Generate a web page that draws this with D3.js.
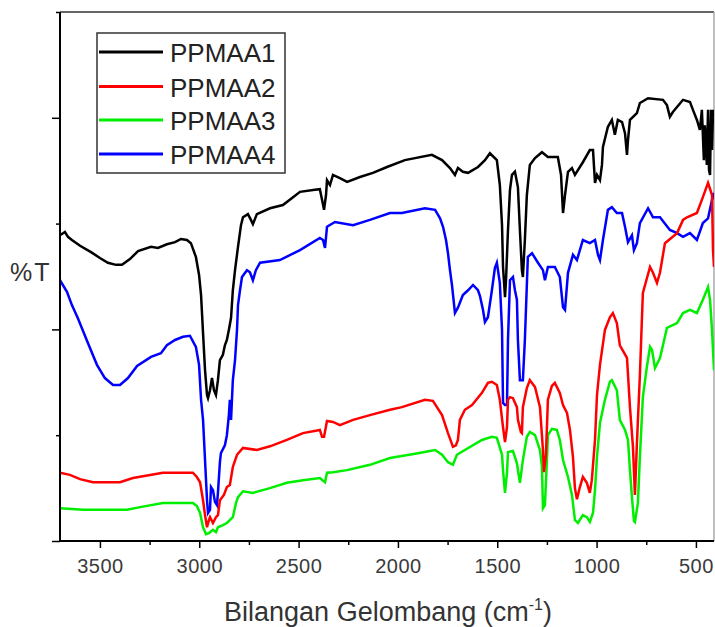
<!DOCTYPE html>
<html><head><meta charset="utf-8">
<script src="https://cdn.jsdelivr.net/npm/d3@7"></script>
<style>body{margin:0;background:#fff}svg{display:block}</style>
</head><body>
<svg id="chart" width="715" height="627"></svg>
<script>
// ---- data (wavenumber cm^-1, %T in arbitrary units) ----
const seriesNames = ["PPMAA1", "PPMAA2", "PPMAA3", "PPMAA4"];
const seriesColors = ["#000000", "#ff0000", "#00ee00", "#0000ff"];
const xMajorTicks = [3500, 3000, 2500, 2000, 1500, 1000, 500];
const xMinorTicks = [3250, 2750, 2250, 1750, 1250, 750];
const yMajorTicks = [0, 40, 80];
const yMinorTicks = [20, 60, 100];

const ppmaa1 = [[3701,57.8],[3676,58.4],[3661,57.5],[3641,56.9],[3600,55.8],[3545,54.6],[3500,53.5],[3460,52.6],[3419,52.2],[3389,52.2],[3349,53.3],[3308,54.8],[3243,55.6],[3208,55.4],[3163,56.1],[3122,56.5],[3092,57.1],[3062,56.9],[3042,56.3],[3017,53.7],[3001,50.3],[2991,46.5],[2981,39.3],[2971,32.3],[2961,27.6],[2956,27.0],[2946,28.5],[2936,30.8],[2926,28.5],[2916,27.6],[2906,30.4],[2896,34.2],[2881,35.2],[2871,37.0],[2861,38.0],[2851,39.9],[2840,42.2],[2831,47.4],[2820,51.2],[2805,55.6],[2790,59.7],[2780,61.2],[2755,61.8],[2740,60.7],[2730,59.9],[2710,61.8],[2644,62.9],[2579,63.5],[2528,65.0],[2493,66.0],[2418,66.4],[2393,66.5],[2382,64.5],[2372,62.6],[2362,65.4],[2357,68.2],[2342,67.3],[2327,69.2],[2292,68.6],[2256,67.9],[2191,68.8],[2126,69.6],[2055,70.7],[1965,72.0],[1829,73.0],[1778,72.0],[1738,70.5],[1713,69.2],[1698,70.5],[1673,69.8],[1647,69.6],[1597,70.7],[1562,72.0],[1537,73.3],[1502,72.0],[1487,67.3],[1476,59.7],[1471,51.8],[1461,46.1],[1456,49.3],[1446,58.8],[1436,66.4],[1426,69.2],[1411,69.8],[1396,66.9],[1386,58.8],[1376,51.2],[1371,49.9],[1361,56.9],[1351,65.4],[1336,71.1],[1310,72.4],[1275,73.5],[1245,72.6],[1195,72.6],[1179,69.2],[1169,62.0],[1159,65.4],[1144,69.8],[1124,70.5],[1109,69.2],[1069,71.6],[1034,73.9],[1018,73.9],[1008,67.7],[998,69.2],[983,68.2],[973,71.1],[968,74.5],[943,78.3],[923,79.6],[908,76.8],[893,79.6],[872,79.2],[857,77.1],[847,73.0],[842,75.8],[832,79.6],[797,80.9],[782,82.8],[741,83.7],[666,83.4],[646,82.4],[631,80.2],[616,81.1],[565,83.4],[530,83.0],[515,81.5],[495,79.6],[480,77.7],[470,81.5],[460,72.0],[455,78.6],[445,71.1],[439,81.5],[434,70.1],[429,69.2],[424,81.5],[419,73.9],[414,81.5],[409,80.0]];

const ppmaa2 = [[3701,12.9],[3651,12.5],[3600,11.7],[3535,11.1],[3399,11.1],[3334,11.9],[3183,12.9],[3032,12.9],[3012,12.1],[2996,11.1],[2981,7.7],[2971,4.9],[2961,2.6],[2951,4.0],[2946,4.5],[2931,3.4],[2916,4.5],[2906,4.9],[2896,7.7],[2876,8.7],[2861,10.2],[2846,10.6],[2831,14.0],[2810,16.3],[2780,17.6],[2710,17.2],[2644,17.9],[2559,19.1],[2478,20.4],[2393,21.0],[2382,19.7],[2372,19.7],[2357,22.7],[2327,22.5],[2292,21.9],[2226,22.9],[2141,23.8],[2040,24.8],[1980,25.3],[1864,26.7],[1824,26.5],[1778,23.8],[1748,20.4],[1723,17.8],[1708,18.1],[1698,19.1],[1688,22.9],[1663,24.8],[1627,25.7],[1577,28.0],[1547,29.9],[1527,30.1],[1502,29.5],[1487,26.7],[1471,21.5],[1461,18.7],[1451,21.5],[1446,26.7],[1436,27.2],[1421,27.0],[1401,25.3],[1396,22.9],[1381,20.6],[1376,20.4],[1371,25.3],[1351,28.9],[1336,30.4],[1310,29.1],[1285,25.3],[1270,17.2],[1265,13.0],[1255,16.3],[1245,26.7],[1225,29.3],[1210,29.9],[1185,28.0],[1169,25.7],[1149,24.2],[1134,21.0],[1119,15.9],[1109,10.0],[1099,7.9],[1084,10.2],[1069,12.1],[1049,11.0],[1034,9.1],[1024,11.5],[1008,19.1],[998,27.6],[983,33.3],[958,39.9],[933,42.3],[918,43.1],[898,41.2],[883,37.0],[847,34.6],[832,25.3],[817,17.8],[807,8.7],[797,18.5],[782,31.4],[772,41.8],[767,46.9],[731,51.8],[716,50.7],[696,48.8],[681,50.7],[656,56.3],[595,58.2],[565,60.7],[545,61.2],[495,62.0],[465,65.0],[439,67.7],[419,65.4],[414,55.0],[409,51.8]];

const ppmaa3 = [[3701,6.2],[3585,5.9],[3364,5.9],[3298,6.4],[3183,7.2],[3032,7.2],[3012,6.6],[2996,5.3],[2981,2.6],[2966,1.3],[2951,1.5],[2931,2.1],[2916,1.7],[2906,2.6],[2881,3.0],[2861,3.4],[2831,4.5],[2815,7.2],[2805,8.3],[2780,9.4],[2730,9.1],[2644,10.0],[2559,11.0],[2478,11.5],[2393,11.9],[2367,11.1],[2357,12.9],[2327,13.0],[2256,13.4],[2141,14.4],[2040,15.7],[1899,16.6],[1813,17.2],[1778,16.3],[1748,14.9],[1723,14.4],[1703,16.3],[1663,17.2],[1577,19.1],[1527,19.7],[1502,19.5],[1476,16.3],[1471,13.4],[1461,9.1],[1451,12.9],[1446,16.8],[1421,17.0],[1401,14.7],[1386,11.0],[1371,15.3],[1351,19.7],[1336,20.6],[1310,20.0],[1285,17.2],[1275,14.0],[1270,6.2],[1260,6.8],[1250,15.3],[1245,20.0],[1225,21.2],[1200,21.0],[1185,19.1],[1169,15.3],[1144,12.1],[1124,8.7],[1109,4.0],[1094,3.4],[1069,4.9],[1049,4.5],[1034,3.6],[1018,5.3],[1008,9.6],[998,15.9],[983,22.3],[958,26.7],[933,30.1],[923,30.4],[898,28.5],[883,22.9],[857,21.0],[842,19.1],[832,13.4],[822,8.3],[812,3.8],[807,3.6],[792,7.2],[782,15.9],[767,27.2],[747,32.9],[731,36.7],[721,36.1],[706,32.7],[681,34.6],[656,38.6],[646,40.3],[595,41.2],[565,43.1],[530,43.7],[495,43.1],[465,45.6],[439,48.0],[429,45.6],[419,39.9],[409,32.3]];

const ppmaa4 = [[3701,49.3],[3666,47.1],[3641,44.6],[3611,42.1],[3560,37.4],[3515,33.3],[3475,30.8],[3434,29.5],[3399,29.5],[3359,30.8],[3313,33.1],[3243,34.8],[3193,35.5],[3163,37.0],[3122,38.0],[3082,38.6],[3047,38.8],[3017,36.7],[3001,33.3],[2991,26.7],[2981,22.9],[2971,15.3],[2961,7.7],[2956,5.3],[2946,5.9],[2941,10.2],[2931,9.6],[2921,7.4],[2911,6.8],[2906,9.1],[2896,14.9],[2891,16.6],[2871,18.1],[2861,20.0],[2851,23.8],[2846,26.7],[2840,22.9],[2831,30.4],[2820,34.2],[2810,39.9],[2805,44.6],[2795,47.4],[2785,49.9],[2760,51.2],[2745,50.8],[2730,49.3],[2715,51.2],[2694,52.6],[2594,53.1],[2493,55.0],[2393,57.3],[2377,56.9],[2367,55.4],[2357,59.4],[2317,60.3],[2226,59.7],[2141,60.7],[2040,62.0],[1980,62.0],[1864,62.9],[1813,62.6],[1788,61.0],[1773,59.4],[1758,56.9],[1748,54.4],[1738,51.2],[1728,48.4],[1713,43.1],[1698,44.1],[1673,46.5],[1647,47.4],[1622,48.4],[1597,47.4],[1587,46.3],[1572,43.7],[1562,41.4],[1547,42.3],[1527,47.4],[1512,51.6],[1502,52.6],[1487,48.8],[1476,39.9],[1471,26.1],[1461,25.7],[1451,25.7],[1446,38.0],[1436,49.3],[1421,49.9],[1411,47.4],[1401,45.6],[1396,38.0],[1386,30.4],[1371,30.4],[1361,38.0],[1346,53.7],[1325,54.4],[1295,52.6],[1270,51.2],[1260,49.3],[1245,51.8],[1210,51.8],[1185,49.9],[1169,44.2],[1159,43.7],[1144,50.7],[1119,54.1],[1099,53.1],[1069,56.9],[1034,56.3],[1008,56.9],[993,54.1],[983,53.1],[968,56.9],[943,62.6],[923,63.1],[898,62.0],[872,62.0],[857,59.4],[842,56.5],[822,57.8],[812,55.0],[797,56.3],[782,60.1],[741,62.9],[716,61.2],[681,61.2],[631,58.8],[595,58.2],[565,57.5],[530,58.2],[495,56.9],[465,60.1],[439,61.0],[419,64.5],[409,65.8]];

const allSeries = [ppmaa1, ppmaa2, ppmaa3, ppmaa4];

// ---- layout ----
const FONT = "'Liberation Sans', Arial, sans-serif";
const L = 60, R = 714, T = 12, B = 541;
const svg = d3.select("#chart");
const x = d3.scaleLinear().domain([3701, 409]).range([L, R]);
const y = d3.scaleLinear().domain([0, 100]).range([B, T]);

svg.append("defs").append("clipPath").attr("id", "clip")
  .append("rect").attr("x", L).attr("y", T).attr("width", R - L).attr("height", B - T);

// frame (top & right)
svg.append("line").attr("x1", L).attr("x2", R).attr("y1", T).attr("y2", T)
  .attr("stroke", "#666").attr("stroke-width", 2);
svg.append("line").attr("x1", R).attr("x2", R).attr("y1", T).attr("y2", B)
  .attr("stroke", "#aaa").attr("stroke-width", 1.5);

// series (last legend entry drawn first)
const line = d3.line().x(d => x(d[0])).y(d => y(d[1]));
const gLines = svg.append("g").attr("clip-path", "url(#clip)");
for (let i = allSeries.length - 1; i >= 0; i--) {
  gLines.append("path").datum(allSeries[i]).attr("d", line)
    .attr("fill", "none").attr("stroke", seriesColors[i])
    .attr("stroke-width", 2.5).attr("stroke-linejoin", "miter");
}

// x axis
const gx = svg.append("g").attr("transform", `translate(0,${B})`)
  .call(d3.axisBottom(x).tickValues(xMajorTicks).tickSize(7).tickPadding(11).tickFormat(d3.format("d")));
svg.append("g").attr("transform", `translate(0,${B})`)
  .call(d3.axisBottom(x).tickValues(xMinorTicks).tickSize(4).tickFormat(""))
  .select(".domain").remove();
gx.select(".domain").attr("d", `M${L},0H${R}`).attr("stroke", "#000").attr("stroke-width", 2);
svg.selectAll(".tick line").attr("stroke", "#000").attr("stroke-width", 1.5);
gx.selectAll(".tick text").attr("font-family", FONT).attr("font-size", 20)
  .attr("fill", "#3a3a3a").attr("letter-spacing", 0.5);

// y axis
const gy = svg.append("g").attr("transform", `translate(${L},0)`)
  .call(d3.axisLeft(y).tickValues(yMajorTicks).tickSize(8).tickFormat(""));
svg.append("g").attr("transform", `translate(${L},0)`)
  .call(d3.axisLeft(y).tickValues(yMinorTicks).tickSize(4).tickFormat(""))
  .select(".domain").remove();
gy.select(".domain").attr("d", `M0,${T}V${B + 1}`).attr("stroke", "#000").attr("stroke-width", 2);
svg.selectAll(".tick line").attr("stroke", "#000").attr("stroke-width", 1.5);

// axis titles
svg.append("text").attr("x", 10).attr("y", 281).attr("font-family", FONT)
  .attr("font-size", 25).attr("letter-spacing", 2).attr("fill", "#333").text("%T");
const xt = svg.append("text").attr("x", 388).attr("y", 621).attr("text-anchor", "middle")
  .attr("font-family", FONT).attr("font-size", 27).attr("fill", "#333");
xt.append("tspan").text("Bilangan Gelombang (cm");
xt.append("tspan").attr("font-size", 16).attr("dy", -11).text("-1");
xt.append("tspan").attr("dy", 11).text(")");

// legend
const lg = svg.append("g");
lg.append("rect").attr("x", 97).attr("y", 33).attr("width", 188).attr("height", 140)
  .attr("fill", "#fff").attr("stroke", "#333").attr("stroke-width", 1.5);
const rowY = [52, 86.5, 120, 154];
seriesNames.forEach((name, i) => {
  lg.append("line").attr("x1", 99).attr("x2", 163).attr("y1", rowY[i]).attr("y2", rowY[i])
    .attr("stroke", seriesColors[i]).attr("stroke-width", 3);
  lg.append("text").attr("x", 170).attr("y", rowY[i] + 10).attr("font-family", FONT)
    .attr("font-size", 26).attr("fill", "#222").text(name);
});
</script>
</body></html>
